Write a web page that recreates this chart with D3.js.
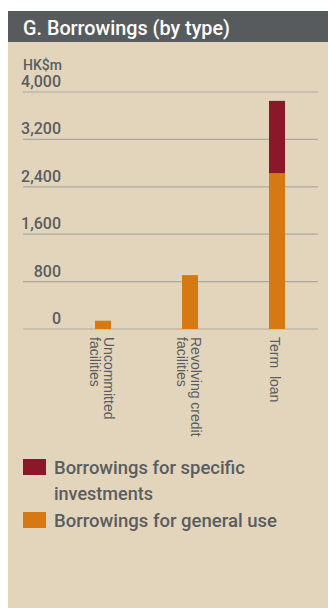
<html>
<head>
<script src="https://d3js.org/d3.v7.min.js"></script>
<style>
  body { margin: 0; background: #ffffff; }
</style>
</head>
<body>
<div id="chart"></div>
<script>
// chart data
var categories = ["Uncommitted facilities", "Revolving credit facilities", "Term loan"];
var labelLines = [["Uncommitted", "facilities"], ["Revolving credit", "facilities"], ["Term  loan"]];
var generalUse = [140, 910, 2630];
var specificInv = [0, 0, 1220];
var yTicks = [0, 800, 1600, 2400, 3200, 4000];
var seriesNames = ["Borrowings for specific investments", "Borrowings for general use"];
var seriesColors = ["#8a1829", "#d77913"];

var W = 328, H = 608;
var headFont = "Roboto, 'DejaVu Sans Condensed', sans-serif";
var textColor = "#5a5d5f";

var svg = d3.select("#chart").append("svg")
  .attr("width", W).attr("height", H);

// panel
svg.append("rect").attr("x", 8).attr("y", 11).attr("width", W - 8).attr("height", H - 11)
  .attr("fill", "#e3d5bc");
svg.append("rect").attr("x", 8).attr("y", 11).attr("width", W - 8).attr("height", 31)
  .attr("fill", "#575b5e");
svg.append("text").text("G. Borrowings (by type)")
  .attr("x", 23).attr("y", 34.5)
  .attr("textLength", 207).attr("lengthAdjust", "spacingAndGlyphs")
  .attr("fill", "#ffffff").style("font-family", headFont).style("font-weight", 500).style("font-size", "19.5px");

// scales
var y = d3.scaleLinear().domain([0, 4000]).range([329, 92]);
var x = d3.scaleBand().domain(categories).range([59.5, 320.5]).paddingInner(0.816).paddingOuter(0.408);

// gridlines
svg.append("g").selectAll("line").data(yTicks).enter().append("line")
  .attr("x1", 23).attr("x2", 318)
  .attr("y1", function(d){ return y(d); }).attr("y2", function(d){ return y(d); })
  .attr("stroke", "#aba9a3").attr("stroke-width", 1.2);

// tick labels
svg.append("g").selectAll("text").data(yTicks).enter().append("text")
  .text(function(d){ return d3.format(",")(d); })
  .attr("x", 61).attr("y", function(d){ return y(d) - 5; })
  .attr("text-anchor", "end")
  .attr("fill", textColor).style("font-family", headFont).style("font-weight", 500).style("font-size", "16px");

svg.append("text").text("HK$m")
  .attr("x", 23).attr("y", 69.5)
  .attr("fill", textColor).style("font-family", headFont).style("font-weight", 500).style("font-size", "14px");

// stacked bars
var stackData = categories.map(function(c, i){ return {cat: c, general: generalUse[i], specific: specificInv[i]}; });
var stack = d3.stack().keys(["general", "specific"])(stackData);
var keyColor = {general: seriesColors[1], specific: seriesColors[0]};

svg.append("g").selectAll("g").data(stack).enter().append("g")
  .attr("fill", function(s){ return keyColor[s.key]; })
  .selectAll("rect").data(function(s){ return s; }).enter().append("rect")
  .filter(function(d){ return d[1] > d[0]; })
  .attr("x", function(d){ return x(d.data.cat); })
  .attr("width", x.bandwidth())
  .attr("y", function(d){ return y(d[1]); })
  .attr("height", function(d){ return y(d[0]) - y(d[1]); });

// category labels, rotated; first line on the right
var lineGap = 14;
categories.forEach(function(c, i){
  var lines = labelLines[i];
  var cx = x(c) + x.bandwidth() / 2;
  var t = svg.append("text")
    .attr("transform", "translate(" + cx + ",337) rotate(90)")
    .attr("fill", textColor)
    .style("font-family", "'Liberation Sans', Arial, sans-serif")
    .style("font-size", "14px")
    .style("white-space", "pre");
  var start = 7 - (lines.length - 1) * 7.5;
  lines.forEach(function(l, j){
    t.append("tspan").attr("x", 0).attr("y", start + j * lineGap).text(l);
  });
});

// legend
var legend = svg.append("g");
legend.append("rect").attr("x", 23).attr("y", 459).attr("width", 23).attr("height", 16).attr("fill", seriesColors[0]);
legend.append("rect").attr("x", 23).attr("y", 512).attr("width", 23).attr("height", 16).attr("fill", seriesColors[1]);
function legText(str, yy, len){
  legend.append("text").attr("x", 54).attr("y", yy).text(str)
    .attr("textLength", len).attr("lengthAdjust", "spacingAndGlyphs")
    .attr("fill", textColor).style("font-family", headFont).style("font-weight", 500).style("font-size", "18.5px");
}
legText("Borrowings for specific", 473.5, 191);
legText("investments", 499.5, 99);
legText(seriesNames[1], 526.5, 223);
</script>
</body>
</html>
